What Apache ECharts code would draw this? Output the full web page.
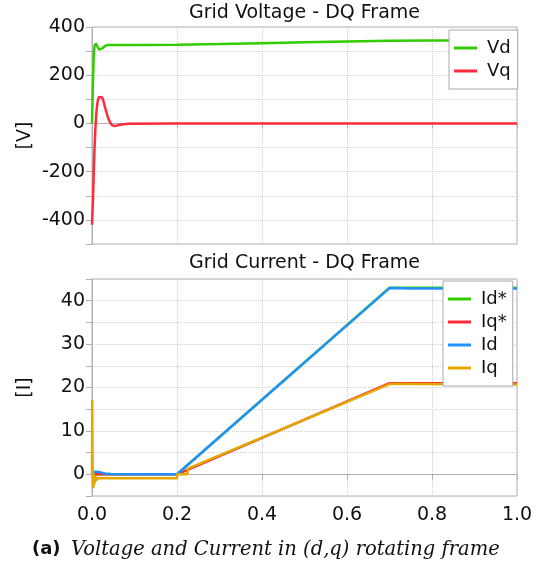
<!DOCTYPE html>
<html>
<head>
<meta charset="utf-8">
<script src="https://cdn.jsdelivr.net/npm/echarts@6/dist/echarts.min.js"></script>
<style>
html,body{margin:0;padding:0;background:#fff;}
#chart{width:547px;height:566px;}
</style>
</head>
<body>
<div id="chart"></div>
<script>
// ---- Data (time in s) ----
const vdT = [0, 0.002, 0.004, 0.006, 0.009, 0.013, 0.017, 0.020, 0.025, 0.030, 0.036, 0.045, 0.1, 0.2, 0.3, 0.4, 0.5, 0.6, 0.7, 0.8, 0.9, 1.0];
const vdV = [0, 160, 280, 322, 331, 318, 306, 305, 312, 321, 325, 325, 325, 326, 329, 333, 337, 340, 343, 344, 344, 344];

const vqT = [0, 0.002, 0.004, 0.006, 0.008, 0.0105, 0.013, 0.016, 0.020, 0.024, 0.028, 0.032, 0.037, 0.042, 0.047, 0.053, 0.060, 0.070, 0.085, 0.2, 0.225, 0.226, 0.228, 0.4, 0.6, 0.8, 1.0];
const vqV = [-420, -330, -210, -100, -20, 50, 88, 110, 116, 108, 86, 58, 28, 6, -7, -11, -8, -4, -1, 0, 0, 5, 0, 0, 0, 0, 0];

const idRefT = [0, 0.2, 0.7, 1.0];
const idRefV = [0, 0, 43, 43];

const iqRefT = [0, 0.2, 0.7, 1.0];
const iqRefV = [0, 0, 21, 21];

const idT = [0, 0.003, 0.007, 0.012, 0.02, 0.03, 0.045, 0.1, 0.2, 0.7, 0.75, 1.0];
const idV = [0, 0.3, 0.6, 0.6, 0.45, 0.2, 0.05, 0, 0, 42.9, 42.8, 42.8];

const iqT = [0, 0.0005, 0.0012, 0.002, 0.0027, 0.0035, 0.0045, 0.0055, 0.0065, 0.008, 0.010, 0.013, 0.2, 0.2005, 0.2245, 0.2255, 0.7, 0.75, 1.0];
const iqV = [0, 17.2, 4, -1, -3.2, 0.3, -2.6, -0.3, -2, -0.4, -1.5, -0.9, -0.9, 0, 0, 1.3, 20.8, 20.8, 20.7];

const xTicks = [0, 0.2, 0.4, 0.6, 0.8, 1.0];

function zip(t, v) { return t.map((x, i) => [x, v[i]]); }

const C_GREEN = '#33cc00';
const C_RED = '#ff2a3a';
const C_BLUE = '#2290ff';
const C_GOLD = '#e3a800';

const FONT = 'DejaVu Sans';
const AXIS_C = '#b0b0b0';
const GRID_C = '#cfcfcf';

const chart = echarts.init(document.getElementById('chart'), null, {renderer: 'canvas'});

function yAxisCommon(step, name, min, max, minor) {
  const keep = (v) => Math.abs(v / step - Math.round(v / step)) < 1e-6;
  return {
    type: 'value', min: min, max: max, interval: minor,
    name: name, nameLocation: 'middle', nameGap: 57, nameRotate: 90, nameMoveOverlap: false,
    nameTextStyle: {fontFamily: FONT, fontSize: 19, color: '#111'},
    axisLine: {show: true, lineStyle: {color: AXIS_C}},
    axisTick: {show: true, length: 6, lineStyle: {color: AXIS_C},
      interval: (i, v) => keep(Number(v))},
    axisLabel: {fontFamily: FONT, fontSize: 19, color: '#111', margin: 7,
      interval: (i, v) => keep(Number(v)),
      formatter: (v) => keep(v) ? String(Math.round(v)) : ''},
    splitLine: {show: true, lineStyle: {color: GRID_C, type: 'dotted', width: 1},
      interval: (i, v) => keep(Number(v))}
  };
}

function xAxisCommon(idx, showLabel) {
  return {
    type: 'value', gridIndex: idx, min: xTicks[0], max: xTicks[xTicks.length - 1], interval: 0.2,
    axisLine: {show: true, lineStyle: {color: AXIS_C}},
    axisTick: {show: true, length: 5, lineStyle: {color: AXIS_C}},
    axisLabel: {show: showLabel, fontFamily: FONT, fontSize: 19, color: '#111', margin: 10,
      formatter: (v) => v.toFixed(1)},
    splitLine: {show: true, lineStyle: {color: GRID_C, type: 'dotted', width: 1}}
  };
}

function lineSeries(name, data, color, xi) {
  return {
    name: name, type: 'line', data: data, xAxisIndex: xi, yAxisIndex: xi,
    showSymbol: false, symbol: 'none',
    lineStyle: {color: color, width: 2.5}, itemStyle: {color: color},
    animation: false, silent: true
  };
}

const legendCommon = {
  orient: 'vertical', selectedMode: false,
  icon: 'rect', itemWidth: 23, itemHeight: 3, itemGap: 5,
  backgroundColor: '#fff', borderColor: '#a8a8a8', borderWidth: 1,
  textStyle: {fontFamily: FONT, fontSize: 18, color: '#111', padding: [0, 0, 0, 5]}
};

const option = {
  animation: false,
  backgroundColor: '#fff',
  grid: [
    {left: 92, top: 27, width: 425, height: 217, show: true, borderColor: AXIS_C, borderWidth: 1, containLabel: false},
    {left: 92, top: 279, width: 425, height: 217, show: true, borderColor: AXIS_C, borderWidth: 1, containLabel: false}
  ],
  xAxis: [xAxisCommon(0, false), xAxisCommon(1, true)],
  yAxis: [
    Object.assign(yAxisCommon(200, '[V]', -500, 400, 100), {gridIndex: 0}),
    Object.assign(yAxisCommon(10, '[I]', -5, 45, 5), {gridIndex: 1})
  ],
  legend: [
    Object.assign({}, legendCommon, {data: ['Vd', 'Vq'], left: 449, top: 30, padding: [9, 7, 9, 5]}),
    Object.assign({}, legendCommon, {data: ['Id*', 'Iq*', 'Id', 'Iq'], left: 443, top: 281, padding: [9, 6, 9, 5]})
  ],
  series: [
    lineSeries('Vd', zip(vdT, vdV), C_GREEN, 0),
    lineSeries('Vq', zip(vqT, vqV), C_RED, 0),
    lineSeries('Id*', zip(idRefT, idRefV), C_GREEN, 1),
    lineSeries('Iq*', zip(iqRefT, iqRefV), C_RED, 1),
    lineSeries('Id', zip(idT, idV), C_BLUE, 1),
    lineSeries('Iq', zip(iqT, iqV), C_GOLD, 1)
  ],
  graphic: [
    {type: 'text', x: 304.5, y: 13.5, style: {text: 'Grid Voltage - DQ Frame', font: '19px "DejaVu Sans"', fill: '#111', textAlign: 'center', textVerticalAlign: 'middle'}},
    {type: 'text', x: 304.5, y: 263.5, style: {text: 'Grid Current - DQ Frame', font: '19px "DejaVu Sans"', fill: '#111', textAlign: 'center', textVerticalAlign: 'middle'}},
    {type: 'text', x: 32, y: 549.5, style: {text: '(a)', font: 'bold 18px "DejaVu Sans"', fill: '#111', textAlign: 'left', textVerticalAlign: 'middle'}},
    {type: 'text', x: 71, y: 549.5, style: {text: 'Voltage and Current in (d,q) rotating frame', font: 'italic 19.5px "DejaVu Serif"', fill: '#111', textAlign: 'left', textVerticalAlign: 'middle'}}
  ]
};

chart.setOption(option);
</script>
</body>
</html>
